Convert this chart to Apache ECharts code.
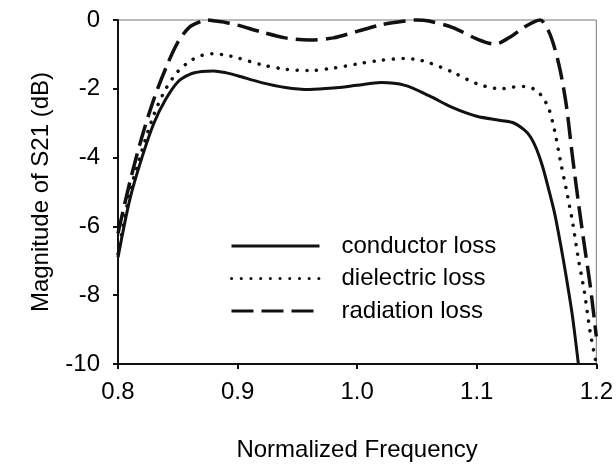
<!DOCTYPE html>
<html>
<head>
<meta charset="utf-8">
<script src="https://cdn.jsdelivr.net/npm/echarts@6/dist/echarts.min.js"></script>
<style>
html,body{margin:0;padding:0;background:#fff;}
#chart{width:616px;height:467px;}
</style>
</head>
<body>
<div id="chart"></div>
<script>
// Frequency values and S21 magnitudes
var condX = [0.80,0.81,0.82,0.83,0.84,0.85,0.86,0.87,0.88,0.89,0.90,0.92,0.94,0.96,0.98,1.00,1.02,1.04,1.06,1.08,1.10,1.12,1.13,1.14,1.145,1.15,1.155,1.16,1.165,1.17,1.175,1.18,1.185];
var condY = [-6.9,-5.2,-4.0,-3.0,-2.3,-1.8,-1.58,-1.5,-1.48,-1.53,-1.62,-1.82,-1.96,-2.02,-1.98,-1.9,-1.82,-1.9,-2.2,-2.55,-2.8,-2.92,-2.98,-3.2,-3.4,-3.75,-4.25,-4.9,-5.6,-6.5,-7.5,-8.6,-10.0];

var dielX = [0.80,0.81,0.82,0.83,0.84,0.85,0.86,0.87,0.88,0.89,0.90,0.92,0.94,0.96,0.98,1.00,1.02,1.04,1.05,1.06,1.08,1.10,1.12,1.13,1.14,1.15,1.155,1.16,1.165,1.17,1.175,1.18,1.185,1.19,1.195,1.20];
var dielY = [-6.8,-5.0,-3.8,-2.75,-2.0,-1.5,-1.2,-1.03,-0.98,-1.02,-1.1,-1.3,-1.43,-1.47,-1.4,-1.28,-1.17,-1.12,-1.15,-1.24,-1.52,-1.85,-2.0,-1.95,-1.93,-2.05,-2.25,-2.55,-3.2,-4.1,-4.95,-5.85,-6.95,-7.9,-9.1,-10.0];

var radX = [0.80,0.81,0.82,0.83,0.84,0.85,0.86,0.87,0.875,0.88,0.89,0.90,0.92,0.94,0.96,0.98,1.00,1.02,1.04,1.05,1.06,1.08,1.10,1.115,1.13,1.14,1.153,1.16,1.165,1.17,1.175,1.18,1.185,1.19,1.195,1.20];
var radY = [-6.2,-4.7,-3.4,-2.3,-1.4,-0.65,-0.2,-0.03,0,-0.02,-0.07,-0.15,-0.35,-0.52,-0.58,-0.52,-0.33,-0.14,-0.03,0,-0.03,-0.22,-0.55,-0.7,-0.45,-0.2,0,-0.32,-0.8,-1.5,-2.5,-3.95,-5.3,-6.55,-7.75,-9.2];

var xTicks = [0.8, 0.9, 1.0, 1.1, 1.2];
var yTicks = [0, -2, -4, -6, -8, -10];
var seriesNames = ['conductor loss', 'dielectric loss', 'radiation loss'];

function pairs(xs, ys) {
  return xs.map(function (x, i) { return [x, ys[i]]; });
}

var FONT = 'Liberation Sans, Arial, sans-serif';
var TXT = '#000';
var chart = echarts.init(document.getElementById('chart'), null, {renderer: 'canvas'});

chart.setOption({
  animation: false,
  backgroundColor: '#fff',
  grid: {
    left: 118, right: 18, top: 20, bottom: 99,
    show: true, borderColor: '#777', borderWidth: 1, backgroundColor: 'transparent'
  },
  legend: {
    orient: 'vertical',
    left: 225, top: 229,
    itemWidth: 88, itemHeight: 14, itemGap: 8.5,
    data: seriesNames,
    itemStyle: {opacity: 0},
    lineStyle: {width: 3},
    textStyle: {fontFamily: FONT, fontSize: 24, color: TXT, padding: [0, 0, 0, 17]}
  },
  xAxis: {
    type: 'value',
    min: xTicks[0], max: xTicks[xTicks.length - 1], interval: 0.1,
    name: 'Normalized Frequency',
    nameLocation: 'middle', nameGap: 74,
    nameTextStyle: {fontFamily: FONT, fontSize: 24, color: TXT},
    axisLine: {show: true, onZero: false, lineStyle: {color: '#111', width: 2}},
    axisTick: {show: true, inside: false, length: 5, lineStyle: {color: '#111', width: 2}},
    axisLabel: {
      fontFamily: FONT, fontSize: 24, color: TXT, margin: 16,
      formatter: function (v) { return v.toFixed(1); }
    },
    splitLine: {show: false}
  },
  yAxis: {
    type: 'value',
    min: yTicks[yTicks.length - 1], max: yTicks[0], interval: 2,
    name: 'Magnitude of S21 (dB)',
    nameLocation: 'middle', nameGap: 65, nameRotate: 90,
    nameTextStyle: {fontFamily: FONT, fontSize: 24, color: TXT},
    axisLine: {show: true, onZero: false, lineStyle: {color: '#111', width: 2}},
    axisTick: {show: true, inside: false, length: 5, lineStyle: {color: '#111', width: 2}},
    axisLabel: {fontFamily: FONT, fontSize: 24, color: TXT, margin: 18},
    splitLine: {show: false}
  },
  series: [
    {
      name: seriesNames[0], type: 'line', data: pairs(condX, condY),
      smooth: 0.3, symbol: 'none', clip: false,
      itemStyle: {color: '#111'},
      lineStyle: {color: '#111', width: 3, type: 'solid'}
    },
    {
      name: seriesNames[1], type: 'line', data: pairs(dielX, dielY),
      smooth: 0.3, symbol: 'none', clip: false,
      itemStyle: {color: '#111'},
      lineStyle: {color: '#111', width: 3.5, type: [0.1, 9.6], cap: 'round'}
    },
    {
      name: seriesNames[2], type: 'line', data: pairs(radX, radY),
      smooth: 0.3, symbol: 'none', clip: false,
      itemStyle: {color: '#111'},
      lineStyle: {color: '#111', width: 3.5, type: [22, 8]}
    }
  ]
});
</script>
</body>
</html>
